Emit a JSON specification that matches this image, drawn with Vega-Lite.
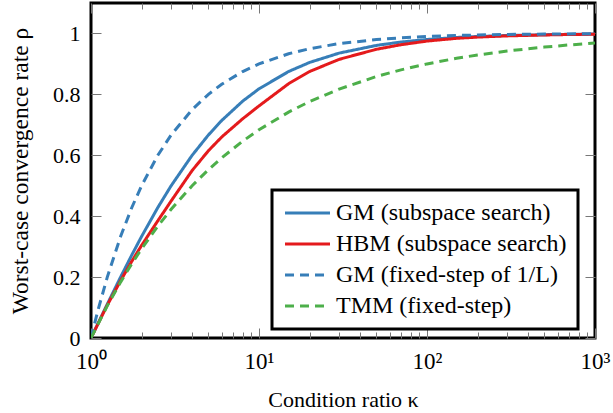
{
  "$schema": "https://vega.github.io/schema/vega-lite/v6.json",
  "width": 504,
  "height": 335,
  "autosize": {"type": "none"},
  "padding": {"left": 91, "top": 3, "right": 18, "bottom": 75},
  "config": {
    "view": {"stroke": "black", "strokeWidth": 3},
    "axis": {"labelFontSize": 22, "titleFontSize": 22, "titleFontWeight": "normal", "labelColor": "black", "titleColor": "black", "domain": false, "grid": false, "tickColor": "#777", "tickWidth": 1},
    "legend": {"labelFontSize": 24, "labelColor": "black", "strokeColor": "black", "strokeWidth": 3, "fillColor": "white", "padding": 11, "cornerRadius": 0, "symbolType": "M-2.25,0H2.25", "symbolSize": 400, "symbolOffset": 12.5, "symbolStrokeWidth": 3, "labelOffset": 16.5, "rowPadding": 7, "labelLimit": 0}
  },
  "data": {"values": [
    {"kappa": 1, "rho": 0, "method": "GM (subspace search)"},
    {"kappa": 1.25, "rho": 0.1111, "method": "GM (subspace search)"},
    {"kappa": 1.5, "rho": 0.2, "method": "GM (subspace search)"},
    {"kappa": 1.75, "rho": 0.2727, "method": "GM (subspace search)"},
    {"kappa": 2, "rho": 0.3333, "method": "GM (subspace search)"},
    {"kappa": 2.5, "rho": 0.4286, "method": "GM (subspace search)"},
    {"kappa": 3, "rho": 0.5, "method": "GM (subspace search)"},
    {"kappa": 4, "rho": 0.6, "method": "GM (subspace search)"},
    {"kappa": 5, "rho": 0.6667, "method": "GM (subspace search)"},
    {"kappa": 6, "rho": 0.7143, "method": "GM (subspace search)"},
    {"kappa": 8, "rho": 0.7778, "method": "GM (subspace search)"},
    {"kappa": 10, "rho": 0.8182, "method": "GM (subspace search)"},
    {"kappa": 15, "rho": 0.875, "method": "GM (subspace search)"},
    {"kappa": 20, "rho": 0.9048, "method": "GM (subspace search)"},
    {"kappa": 30, "rho": 0.9355, "method": "GM (subspace search)"},
    {"kappa": 50, "rho": 0.9608, "method": "GM (subspace search)"},
    {"kappa": 70, "rho": 0.9718, "method": "GM (subspace search)"},
    {"kappa": 100, "rho": 0.9802, "method": "GM (subspace search)"},
    {"kappa": 150, "rho": 0.9868, "method": "GM (subspace search)"},
    {"kappa": 200, "rho": 0.99, "method": "GM (subspace search)"},
    {"kappa": 300, "rho": 0.9934, "method": "GM (subspace search)"},
    {"kappa": 500, "rho": 0.996, "method": "GM (subspace search)"},
    {"kappa": 700, "rho": 0.9972, "method": "GM (subspace search)"},
    {"kappa": 1000, "rho": 0.998, "method": "GM (subspace search)"},
    {"kappa": 1, "rho": 0, "method": "HBM (subspace search)"},
    {"kappa": 1.25, "rho": 0.108, "method": "HBM (subspace search)"},
    {"kappa": 1.5, "rho": 0.188, "method": "HBM (subspace search)"},
    {"kappa": 1.75, "rho": 0.252, "method": "HBM (subspace search)"},
    {"kappa": 2, "rho": 0.304, "method": "HBM (subspace search)"},
    {"kappa": 2.5, "rho": 0.385, "method": "HBM (subspace search)"},
    {"kappa": 3, "rho": 0.45, "method": "HBM (subspace search)"},
    {"kappa": 4, "rho": 0.55, "method": "HBM (subspace search)"},
    {"kappa": 5, "rho": 0.615, "method": "HBM (subspace search)"},
    {"kappa": 6, "rho": 0.66, "method": "HBM (subspace search)"},
    {"kappa": 8, "rho": 0.72, "method": "HBM (subspace search)"},
    {"kappa": 10, "rho": 0.762, "method": "HBM (subspace search)"},
    {"kappa": 15, "rho": 0.835, "method": "HBM (subspace search)"},
    {"kappa": 20, "rho": 0.875, "method": "HBM (subspace search)"},
    {"kappa": 30, "rho": 0.915, "method": "HBM (subspace search)"},
    {"kappa": 50, "rho": 0.948, "method": "HBM (subspace search)"},
    {"kappa": 70, "rho": 0.963, "method": "HBM (subspace search)"},
    {"kappa": 100, "rho": 0.975, "method": "HBM (subspace search)"},
    {"kappa": 150, "rho": 0.984, "method": "HBM (subspace search)"},
    {"kappa": 200, "rho": 0.988, "method": "HBM (subspace search)"},
    {"kappa": 300, "rho": 0.992, "method": "HBM (subspace search)"},
    {"kappa": 500, "rho": 0.995, "method": "HBM (subspace search)"},
    {"kappa": 700, "rho": 0.9965, "method": "HBM (subspace search)"},
    {"kappa": 1000, "rho": 0.9975, "method": "HBM (subspace search)"},
    {"kappa": 1, "rho": 0, "method": "GM (fixed-step of 1/L)"},
    {"kappa": 1.1, "rho": 0.0909, "method": "GM (fixed-step of 1/L)"},
    {"kappa": 1.25, "rho": 0.2, "method": "GM (fixed-step of 1/L)"},
    {"kappa": 1.5, "rho": 0.3333, "method": "GM (fixed-step of 1/L)"},
    {"kappa": 1.75, "rho": 0.4286, "method": "GM (fixed-step of 1/L)"},
    {"kappa": 2, "rho": 0.5, "method": "GM (fixed-step of 1/L)"},
    {"kappa": 2.5, "rho": 0.6, "method": "GM (fixed-step of 1/L)"},
    {"kappa": 3, "rho": 0.6667, "method": "GM (fixed-step of 1/L)"},
    {"kappa": 4, "rho": 0.75, "method": "GM (fixed-step of 1/L)"},
    {"kappa": 5, "rho": 0.8, "method": "GM (fixed-step of 1/L)"},
    {"kappa": 6, "rho": 0.8333, "method": "GM (fixed-step of 1/L)"},
    {"kappa": 8, "rho": 0.875, "method": "GM (fixed-step of 1/L)"},
    {"kappa": 10, "rho": 0.9, "method": "GM (fixed-step of 1/L)"},
    {"kappa": 15, "rho": 0.9333, "method": "GM (fixed-step of 1/L)"},
    {"kappa": 20, "rho": 0.95, "method": "GM (fixed-step of 1/L)"},
    {"kappa": 30, "rho": 0.9667, "method": "GM (fixed-step of 1/L)"},
    {"kappa": 50, "rho": 0.98, "method": "GM (fixed-step of 1/L)"},
    {"kappa": 70, "rho": 0.9857, "method": "GM (fixed-step of 1/L)"},
    {"kappa": 100, "rho": 0.99, "method": "GM (fixed-step of 1/L)"},
    {"kappa": 150, "rho": 0.9933, "method": "GM (fixed-step of 1/L)"},
    {"kappa": 200, "rho": 0.995, "method": "GM (fixed-step of 1/L)"},
    {"kappa": 300, "rho": 0.9967, "method": "GM (fixed-step of 1/L)"},
    {"kappa": 500, "rho": 0.998, "method": "GM (fixed-step of 1/L)"},
    {"kappa": 700, "rho": 0.9986, "method": "GM (fixed-step of 1/L)"},
    {"kappa": 1000, "rho": 0.999, "method": "GM (fixed-step of 1/L)"},
    {"kappa": 1, "rho": 0, "method": "TMM (fixed-step)"},
    {"kappa": 1.25, "rho": 0.1056, "method": "TMM (fixed-step)"},
    {"kappa": 1.5, "rho": 0.1835, "method": "TMM (fixed-step)"},
    {"kappa": 1.75, "rho": 0.2441, "method": "TMM (fixed-step)"},
    {"kappa": 2, "rho": 0.2929, "method": "TMM (fixed-step)"},
    {"kappa": 2.5, "rho": 0.3675, "method": "TMM (fixed-step)"},
    {"kappa": 3, "rho": 0.4226, "method": "TMM (fixed-step)"},
    {"kappa": 4, "rho": 0.5, "method": "TMM (fixed-step)"},
    {"kappa": 5, "rho": 0.5528, "method": "TMM (fixed-step)"},
    {"kappa": 6, "rho": 0.5918, "method": "TMM (fixed-step)"},
    {"kappa": 8, "rho": 0.6464, "method": "TMM (fixed-step)"},
    {"kappa": 10, "rho": 0.6838, "method": "TMM (fixed-step)"},
    {"kappa": 15, "rho": 0.7418, "method": "TMM (fixed-step)"},
    {"kappa": 20, "rho": 0.7764, "method": "TMM (fixed-step)"},
    {"kappa": 30, "rho": 0.8174, "method": "TMM (fixed-step)"},
    {"kappa": 50, "rho": 0.8586, "method": "TMM (fixed-step)"},
    {"kappa": 70, "rho": 0.8805, "method": "TMM (fixed-step)"},
    {"kappa": 100, "rho": 0.9, "method": "TMM (fixed-step)"},
    {"kappa": 150, "rho": 0.9184, "method": "TMM (fixed-step)"},
    {"kappa": 200, "rho": 0.9293, "method": "TMM (fixed-step)"},
    {"kappa": 300, "rho": 0.9423, "method": "TMM (fixed-step)"},
    {"kappa": 500, "rho": 0.9553, "method": "TMM (fixed-step)"},
    {"kappa": 700, "rho": 0.9622, "method": "TMM (fixed-step)"},
    {"kappa": 1000, "rho": 0.9684, "method": "TMM (fixed-step)"}
  ]},
  "layer": [
    {
      "mark": {"type": "line", "strokeWidth": 3, "clip": true},
      "encoding": {
        "x": {"field": "kappa", "type": "quantitative", "scale": {"type": "log", "domain": [1, 1000], "nice": false},
          "axis": {"orient": "bottom", "title": "Condition ratio κ", "values": [1,2,3,4,5,6,7,8,9,10,20,30,40,50,60,70,80,90,100,200,300,400,500,600,700,800,900,1000],
            "labelFont": "serif", "titleFont": "serif", "labelFontSize": 23, "titleFontSize": 22,
            "tickSize": {"condition": {"test": "datum.value == 1 || datum.value == 10 || datum.value == 100 || datum.value == 1000", "value": -10}, "value": -6},
            "labelExpr": "datum.value == 1 ? '10⁰' : datum.value == 10 ? '10¹' : datum.value == 100 ? '10²' : datum.value == 1000 ? '10³' : ''",
            "labelPadding": 22, "titlePadding": 12, "labelFlush": false, "labelOverlap": false}},
        "y": {"field": "rho", "type": "quantitative", "scale": {"domain": [0, 1.1], "nice": false, "zero": true},
          "axis": {"orient": "left", "title": "Worst-case convergence rate ρ", "values": [0, 0.2, 0.4, 0.6, 0.8, 1], "tickSize": -10,
            "labelFont": "serif", "titleFont": "serif", "labelFontSize": 22, "titleFontSize": 23.5,
            "labelExpr": "format(datum.value, '.1~f')", "labelPadding": 21, "titlePadding": 20}},
        "color": {"field": "method", "type": "nominal",
          "scale": {"domain": ["GM (subspace search)", "HBM (subspace search)", "GM (fixed-step of 1/L)", "TMM (fixed-step)"], "range": ["#377eb8", "#e41a1c", "#377eb8", "#4daf4a"]},
          "legend": {"orient": "none", "legendX": 181, "legendY": 187, "title": null, "labelFont": "serif"}},
        "strokeDash": {"field": "method", "type": "nominal",
          "scale": {"domain": ["GM (subspace search)", "HBM (subspace search)", "GM (fixed-step of 1/L)", "TMM (fixed-step)"], "range": [[1, 0], [1, 0], [9, 6], [9, 6]]},
          "legend": {"orient": "none", "legendX": 181, "legendY": 187, "title": null, "labelFont": "serif"}}
      }
    },
    {
      "mark": {"type": "point", "opacity": 0},
      "encoding": {
        "x": {"field": "kappa", "type": "quantitative", "scale": {"type": "log", "domain": [1, 1000], "nice": false},
          "axis": {"orient": "top", "title": null, "labels": false, "values": [1,2,3,4,5,6,7,8,9,10,20,30,40,50,60,70,80,90,100,200,300,400,500,600,700,800,900,1000],
            "tickSize": {"condition": {"test": "datum.value == 1 || datum.value == 10 || datum.value == 100 || datum.value == 1000", "value": -10}, "value": -6}}},
        "y": {"field": "rho", "type": "quantitative", "scale": {"domain": [0, 1.1], "nice": false, "zero": true},
          "axis": {"orient": "right", "title": null, "labels": false, "values": [0, 0.2, 0.4, 0.6, 0.8, 1], "tickSize": -10}}
      }
    }
  ],
  "resolve": {"axis": {"x": "independent", "y": "independent"}}
}
